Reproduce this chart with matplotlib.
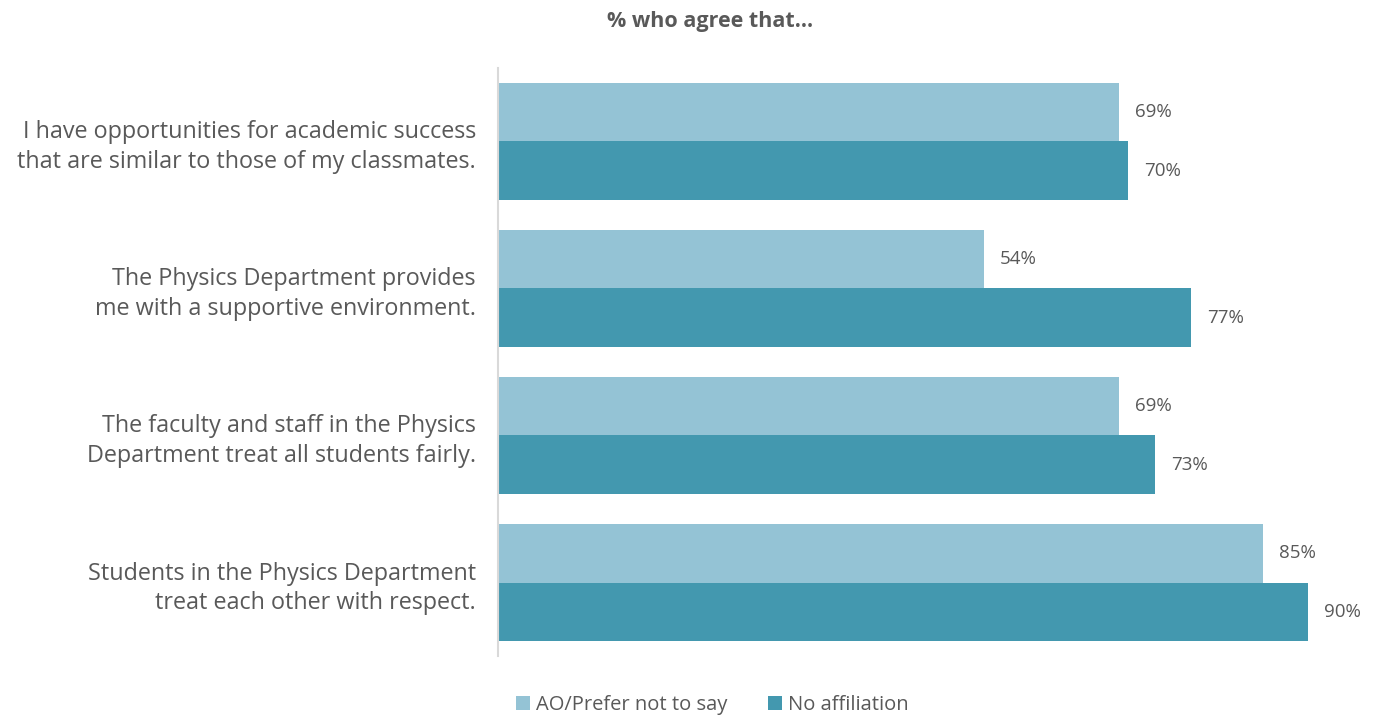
import numpy as np
import matplotlib.pyplot as plt

plt.rcParams['font.family'] = ['Open Sans', 'DejaVu Sans']

statements = [
    "I have opportunities for academic success\nthat are similar to those of my classmates.",
    "The Physics Department provides\nme with a supportive environment.",
    "The faculty and staff in the Physics\nDepartment treat all students fairly.",
    "Students in the Physics Department\ntreat each other with respect.",
]
series_names = ["AO/Prefer not to say", "No affiliation"]
ao_prefer = [69, 54, 69, 85]
no_affil = [70, 77, 73, 90]

light = "#94C3D5"
dark = "#4398AF"
grey = "#595959"

fig = plt.figure(figsize=(13.75, 7.17), dpi=100)
ax = fig.add_axes([498 / 1375, 1 - 656 / 717, (1371 - 498) / 1375, (656 - 68) / 717])

y = np.arange(len(statements))
h = 0.401
b1 = ax.barh(y - h / 2, ao_prefer, height=h, color=light, label=series_names[0])
b2 = ax.barh(y + h / 2, no_affil, height=h, color=dark, label=series_names[1])

# value labels just past the end of each bar
for bars in (b1, b2):
    ax.bar_label(bars, labels=[f"{v}%" for v in bars.datavalues], padding=11.5,
                 fontsize=13.5, color=grey)

ax.set_xlim(0, 97)
ax.set_ylim(len(statements) - 0.5, -0.5)
ax.set_xticks([])
ax.set_yticks(y)
ax.set_yticklabels(statements, fontsize=16.8, color=grey, ha='right',
                   multialignment='right', linespacing=1.28)
ax.tick_params(axis='y', length=0, pad=16)

for s in ('top', 'right', 'bottom'):
    ax.spines[s].set_visible(False)
ax.spines['left'].set_color('#d9d9d9')
ax.spines['left'].set_linewidth(1.5)

fig.text(710 / 1375, 1 - 22 / 717, "% who agree that\u2026", ha='center', va='center',
         fontsize=15.5, fontweight='bold', color=grey)

fig.legend(handles=[b1, b2], loc='center', bbox_to_anchor=(712 / 1375, 1 - 705 / 717),
           ncol=2, frameon=False, fontsize=14.5, labelcolor=grey,
           handlelength=0.7, handleheight=0.7, handletextpad=0.3, columnspacing=2.0)

fig.savefig("out.png", dpi=100)
